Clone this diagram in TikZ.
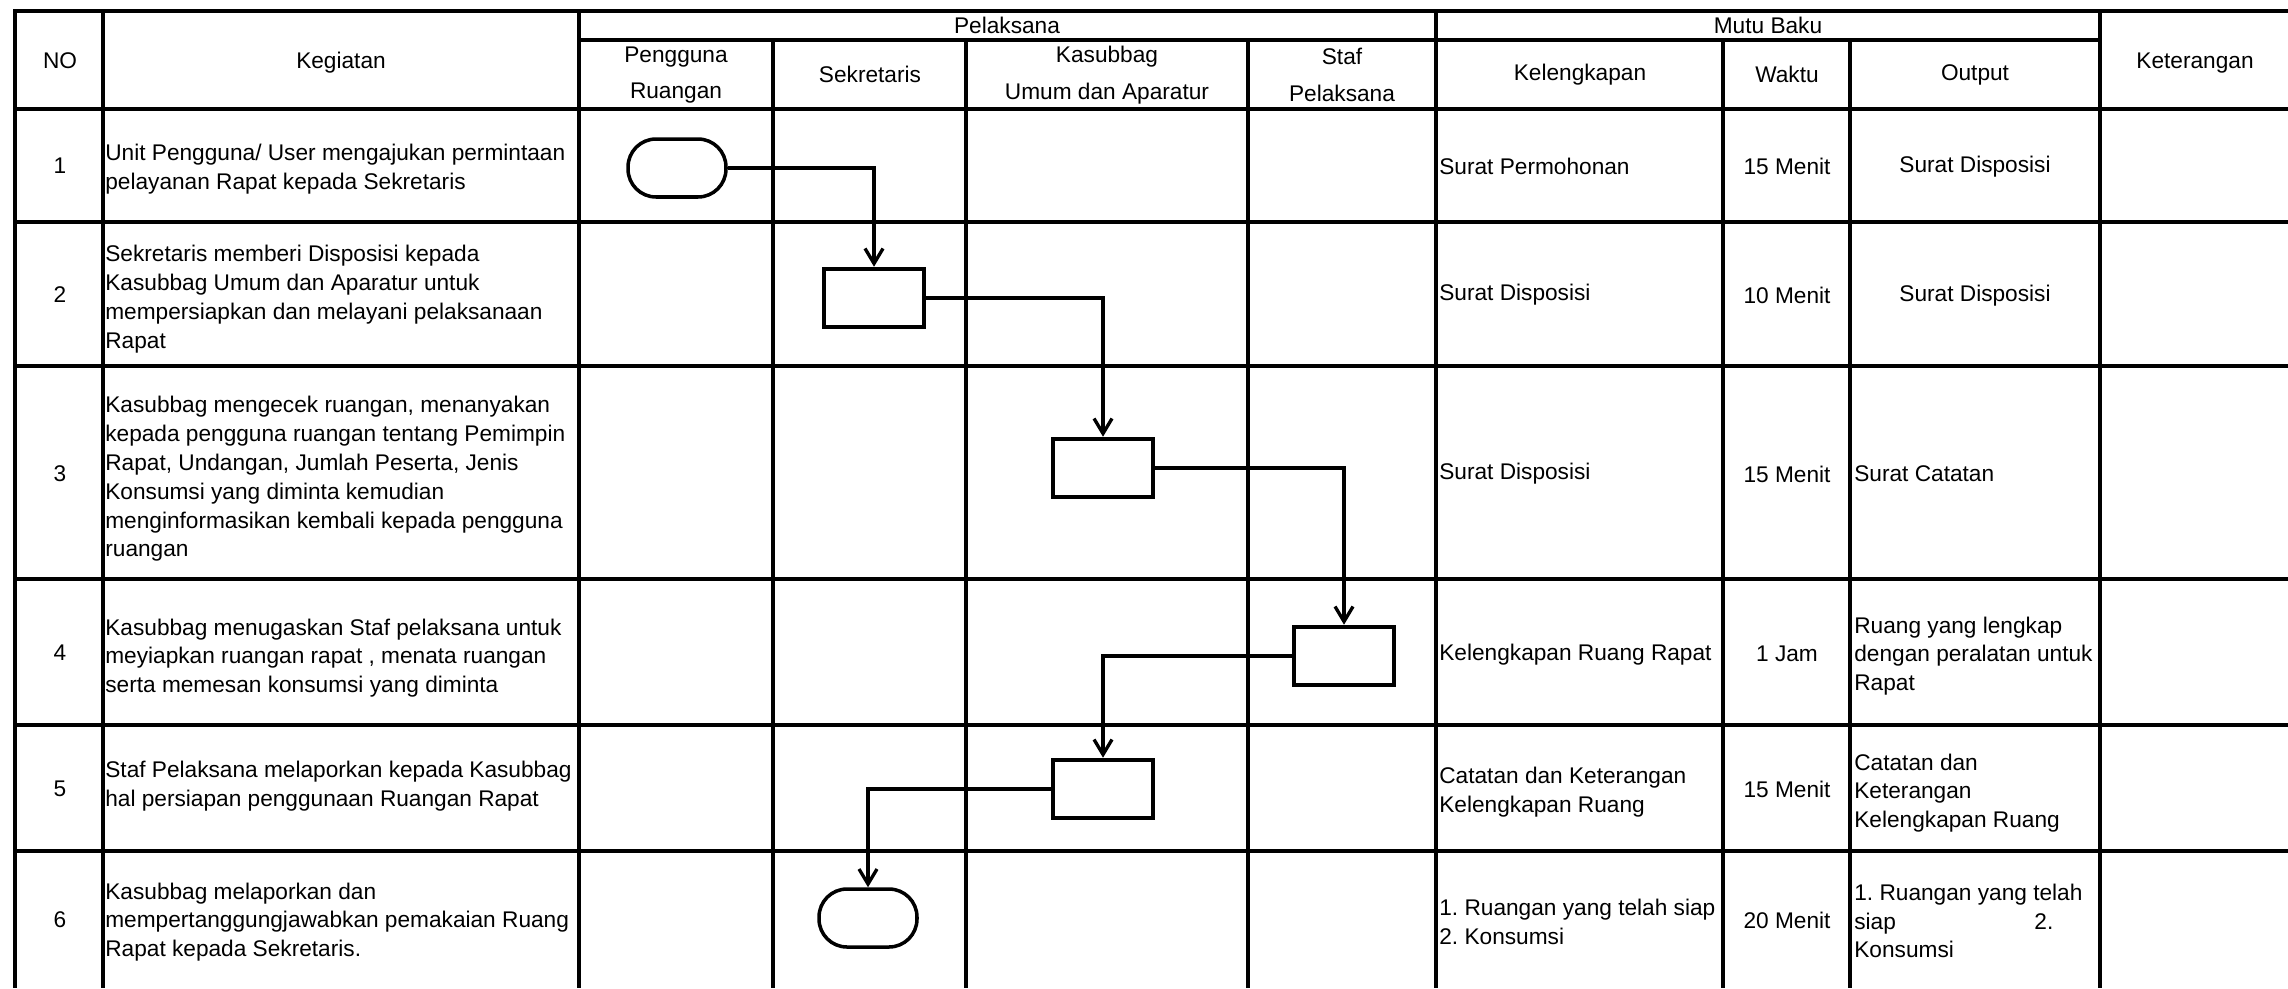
\documentclass[tikz,border=0pt]{standalone}
\usepackage{fontspec}
\setmainfont{Liberation Sans}
\usetikzlibrary{arrows.meta}
\frenchspacing

\tikzset{
  grid/.style={line width=2pt},
  frame/.style={line width=2.8pt},
  hdr/.style={align=center, font=\fontsize{12.9}{20.7}\selectfont},
  cell/.style={align=left, anchor=west},
  proc/.style={draw, line width=2.6pt, minimum width=2cm, minimum height=1.16cm},
  term/.style={draw, line width=2pt, rounded corners=0.56cm, minimum width=1.96cm, minimum height=1.16cm},
  flow/.style={line width=1.9pt, -{Straight Barb[length=0.3cm, width=0.36cm, line width=1.9pt]}}
}

\begin{document}
\begin{tikzpicture}[x=0.02cm, y=-0.02cm,
  every node/.style={inner sep=0pt, font=\fontsize{12.9}{16.4}\selectfont}]
    \useasboundingbox (0,0) rectangle (2288,988);

    % table
    \draw[frame] (2288,11)--(15,11)--(15,988);
    \draw[grid] (579,40)--(2100,40);
    \draw[grid] (15,109)--(2288,109);
    \draw[grid] (15,222)--(2288,222);
    \draw[grid] (15,366)--(2288,366);
    \draw[grid] (15,579)--(2288,579);
    \draw[grid] (15,725)--(2288,725);
    \draw[grid] (15,851)--(2288,851);
    \draw[grid] (103,11)--(103,988);
    \draw[grid] (579,11)--(579,988);
    \draw[grid] (1436,11)--(1436,988);
    \draw[grid] (2100,11)--(2100,988);
    \draw[grid] (773,40)--(773,988);
    \draw[grid] (966,40)--(966,988);
    \draw[grid] (1248,40)--(1248,988);
    \draw[grid] (1723,40)--(1723,988);
    \draw[grid] (1850,40)--(1850,988);

    % header
    \node (hno) at (60,61) {NO};
    \node (hkeg) at (341,63) {Kegiatan};
    \node (hpel) at (1007,25) {Pelaksana};
    \node (hmutu) at (1768,25) {Mutu Baku};
    \node (hket) at (2195,63) {Keterangan};
    \begin{scope}[every node/.append style={hdr}]
      \node (hpeng) at (676,75) {Pengguna\\Ruangan};
      \node (hsek) at (870,74) {Sekretaris};
      \node (hkas) at (1107,75) {Kasubbag\\Umum dan Aparatur};
      \node (hstaf) at (1342,75) {Staf\\Pelaksana};
      \node (hkel) at (1580,75) {Kelengkapan};
      \node (hwkt) at (1787,74) {Waktu};
      \node (hout) at (1975,75) {Output};
    \end{scope}

    % rows
    \node (n1) at (60,166) {1};
    \node (n2) at (60,295) {2};
    \node (n3) at (60,474) {3};
    \node (n4) at (60,653) {4};
    \node (n5) at (60,789) {5};
    \node (n6) at (60,920) {6};

    \begin{scope}[every node/.append style={cell}]
      \node (k1) at (105,169) {Unit Pengguna/ User mengajukan permintaan\\pelayanan Rapat kepada Sekretaris};
      \node (k2) at (105,299) {Sekretaris memberi Disposisi kepada\\Kasubbag Umum dan Aparatur untuk\\mempersiapkan dan melayani pelaksanaan\\Rapat};
      \node (k3) at (105,479) {Kasubbag mengecek ruangan, menanyakan\\kepada pengguna ruangan tentang Pemimpin\\Rapat, Undangan, Jumlah Peserta, Jenis\\Konsumsi yang diminta kemudian\\menginformasikan kembali kepada pengguna\\ruangan};
      \node (k4) at (105,658) {Kasubbag menugaskan Staf pelaksana untuk\\meyiapkan ruangan rapat , menata ruangan\\serta memesan konsumsi yang diminta};
      \node (k5) at (105,786) {Staf Pelaksana melaporkan kepada Kasubbag\\hal persiapan penggunaan Ruangan Rapat};
      \node (k6) at (105,922) {Kasubbag melaporkan dan\\mempertanggungjawabkan pemakaian Ruang\\Rapat kepada Sekretaris.};

      \node (l1) at (1439,166) {Surat Permohonan};
      \node (l2) at (1439,295) {Surat Disposisi};
      \node (l3) at (1439,474) {Surat Disposisi};
      \node (l4) at (1439,655) {Kelengkapan Ruang Rapat};
      \node (l5) at (1439,792) {Catatan dan Keterangan\\Kelengkapan Ruang};
      \node (l6) at (1439,922) {1. Ruangan yang telah siap\\2. Konsumsi};

      \node (o3) at (1854,474) {Surat Catatan};
      \node (o4) at (1854,656) {Ruang yang lengkap\\dengan peralatan untuk\\Rapat};
      \node (o5) at (1854,793) {Catatan dan\\Keterangan\\Kelengkapan Ruang};
      \node (o6) at (1854,921) {1. Ruangan yang telah\\\makebox[3.98cm][l]{siap\hfill 2.}\\Konsumsi};
    \end{scope}

    \node (w1) at (1787,166) {15 Menit};
    \node (w2) at (1787,295) {10 Menit};
    \node (w3) at (1787,474) {15 Menit};
    \node (w4) at (1787,654) {1 Jam};
    \node (w5) at (1787,789) {15 Menit};
    \node (w6) at (1787,920) {20 Menit};
    \node (o1) at (1975,167) {Surat Disposisi};
    \node (o2) at (1975,296) {Surat Disposisi};

    % flow
    \node[term] (t1) at (677,168) {};
    \node[proc] (p2) at (874,298) {};
    \node[proc] (p3) at (1103,468) {};
    \node[proc] (p4) at (1344,656) {};
    \node[proc] (p5) at (1103,789) {};
    \node[term] (t6) at (868,918) {};

    \draw[flow] (t1.east) -| (p2.north);
    \draw[flow] (p2.east) -| (p3.north);
    \draw[flow] (p3.east) -| (p4.north);
    \draw[flow] (p4.west) -| (p5.north);
    \draw[flow] (p5.west) -| (t6.north);
\end{tikzpicture}
\end{document}
